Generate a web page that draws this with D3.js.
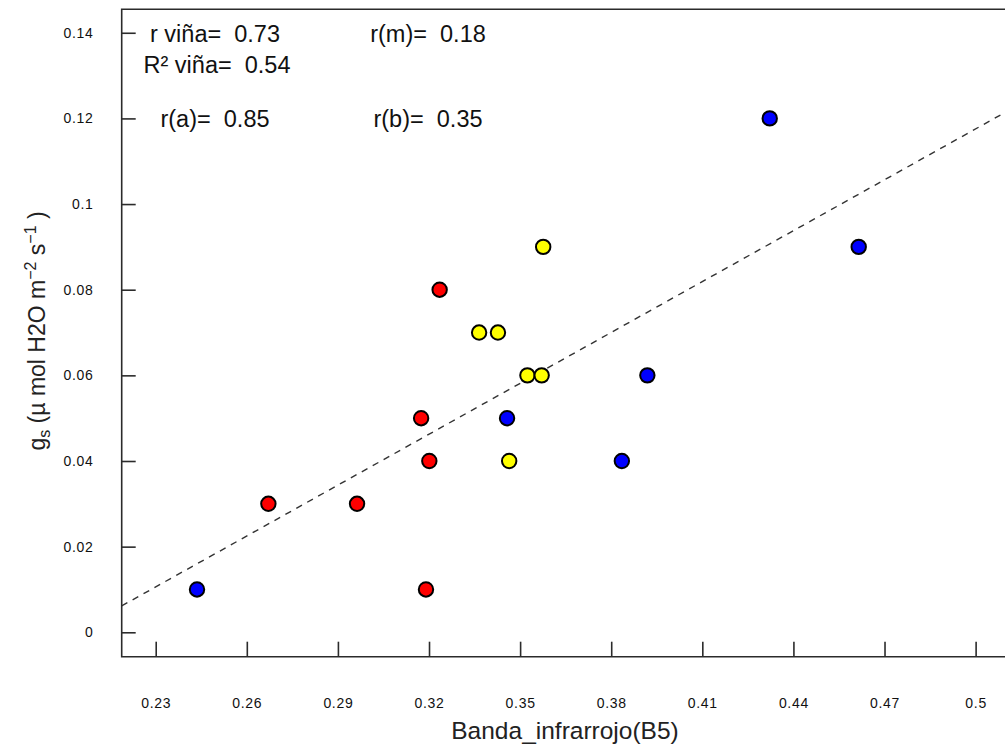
<!DOCTYPE html>
<html>
<head>
<meta charset="utf-8">
<script src="https://cdn.jsdelivr.net/npm/d3@7"></script>
<style>
  html, body { margin: 0; padding: 0; background: #fff; }
  svg { display: block; font-family: "Liberation Sans", Arial, sans-serif; }
</style>
</head>
<body>
<svg id="chart" width="1005" height="744"></svg>
<script>
// Banda infrarroja (B5) vs conductancia estomática, por grupo
const blueX   = [0.2436, 0.3457, 0.3835, 0.3919, 0.4322, 0.4615];
const blueY   = [0.01, 0.05, 0.04, 0.06, 0.12, 0.09];
const redX    = [0.2671, 0.2963, 0.3174, 0.3190, 0.3201, 0.3235];
const redY    = [0.03, 0.03, 0.05, 0.01, 0.04, 0.08];
const yellowX = [0.3365, 0.3427, 0.3524, 0.3571, 0.3464, 0.3576];
const yellowY = [0.07, 0.07, 0.06, 0.06, 0.04, 0.09];

// recta de ajuste del viñedo: gs = intercepto + pendiente * B5
const fitCoef = [-0.0805, 0.3961];

const xTicks = [0.23, 0.26, 0.29, 0.32, 0.35, 0.38, 0.41, 0.44, 0.47, 0.5];
const yTicks = [0, 0.02, 0.04, 0.06, 0.08, 0.1, 0.12, 0.14];

const statLabels = ["r viña=  0.73", "R\u00B2 viña=  0.54", "r(a)=  0.85", "r(m)=  0.18", "r(b)=  0.35"];

const series = [
  { xs: blueX, ys: blueY, fill: "#0000ff" },
  { xs: redX, ys: redY, fill: "#ff0000" },
  { xs: yellowX, ys: yellowY, fill: "#ffff00" }
];

const svg = d3.select("#chart");
const plotL = 121.7, plotT = 9.3, plotB = 656.7, plotR = 1012;

const x = d3.scaleLinear().domain([0.2188, 0.51198]).range([plotL, plotR]);
const y = d3.scaleLinear().domain([-0.0057, 0.14548]).range([plotB, plotT]);

const ink = "#2b2b2b";

svg.append("clipPath").attr("id", "plotArea")
  .append("rect").attr("x", plotL).attr("y", plotT)
  .attr("width", plotR - plotL).attr("height", plotB - plotT);

// fitted line
const [x0, x1] = x.domain();
svg.append("line")
  .attr("clip-path", "url(#plotArea)")
  .attr("x1", x(x0)).attr("y1", y(fitCoef[0] + fitCoef[1] * x0))
  .attr("x2", x(x1)).attr("y2", y(fitCoef[0] + fitCoef[1] * x1))
  .attr("stroke", "#333").attr("stroke-width", 1.4)
  .attr("stroke-dasharray", "6.5,6");

// points
series.forEach(s => {
  svg.append("g").selectAll("circle")
    .data(s.xs.map((v, i) => [v, s.ys[i]]))
    .join("circle")
    .attr("cx", d => x(d[0])).attr("cy", d => y(d[1]))
    .attr("r", 7.2)
    .attr("fill", s.fill)
    .attr("stroke", "#000").attr("stroke-width", 2);
});

// frame
svg.append("path")
  .attr("d", `M${plotR},${plotT}H${plotL}V${plotB}H${plotR}`)
  .attr("fill", "none").attr("stroke", ink).attr("stroke-width", 1.6);

// y axis: inward ticks
const yAxis = d3.axisRight(y).tickValues(yTicks).tickSize(14).tickFormat("");
const gy = svg.append("g").attr("transform", `translate(${plotL},0)`).call(yAxis);
gy.select(".domain").remove();
gy.selectAll(".tick line").attr("stroke", ink).attr("stroke-width", 1.6);

svg.append("g").selectAll("text")
  .data(yTicks).join("text")
  .attr("x", 93.5).attr("y", d => y(d) + 5)
  .attr("text-anchor", "end")
  .attr("font-size", 14).attr("letter-spacing", 0.7)
  .attr("fill", "#111")
  .text(d => d3.format("~g")(d));

// x axis: inward ticks
const xAxis = d3.axisTop(x).tickValues(xTicks).tickSize(15).tickFormat("");
const gx = svg.append("g").attr("transform", `translate(0,${plotB})`).call(xAxis);
gx.select(".domain").remove();
gx.selectAll(".tick line").attr("stroke", ink).attr("stroke-width", 1.6);

svg.append("g").selectAll("text")
  .data(xTicks).join("text")
  .attr("x", d => x(d) + 0.5).attr("y", 708)
  .attr("text-anchor", "middle")
  .attr("font-size", 14).attr("letter-spacing", 0.7)
  .attr("fill", "#111")
  .text(d => d3.format("~g")(d));

// axis titles
svg.append("text")
  .attr("x", 565).attr("y", 739)
  .attr("text-anchor", "middle")
  .attr("font-size", 24.5).attr("fill", "#222")
  .text("Banda_infrarrojo(B5)");

const yTitle = svg.append("text")
  .attr("transform", "translate(45,331) rotate(-90)")
  .attr("text-anchor", "middle")
  .attr("font-size", 23).attr("fill", "#222");
yTitle.append("tspan").text("g");
yTitle.append("tspan").attr("font-size", 16).attr("dy", 5).text("s");
yTitle.append("tspan").attr("dy", -5).text(" (\u00B5 mol H2O m");
yTitle.append("tspan").attr("font-size", 16).attr("dy", -9).text("\u22122");
yTitle.append("tspan").attr("dy", 9).text(" s");
yTitle.append("tspan").attr("font-size", 16).attr("dy", -9).text("\u22121");
yTitle.append("tspan").attr("dy", 9).text(" )");

// correlation annotations
const statPos = [[215, 42], [217, 73], [215, 127], [428, 42], [428, 127]];
svg.append("g").selectAll("text")
  .data(statLabels).join("text")
  .attr("x", (d, i) => statPos[i][0]).attr("y", (d, i) => statPos[i][1])
  .attr("text-anchor", "middle")
  .attr("font-size", 23.5).attr("fill", "#111")
  .style("white-space", "pre")
  .text(d => d);
</script>
</body>
</html>
